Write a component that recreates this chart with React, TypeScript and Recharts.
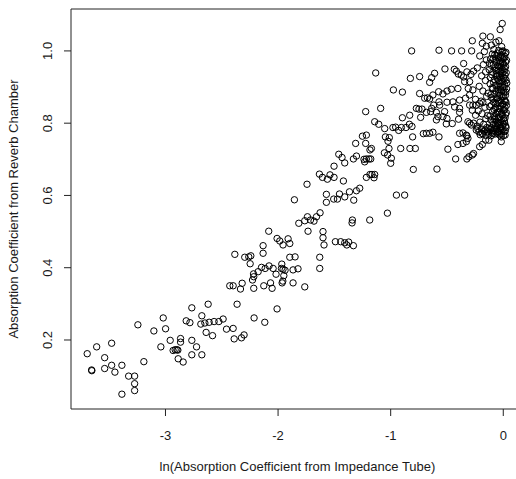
import { Label, ReferenceArea, Scatter, ScatterChart, XAxis, YAxis } from 'recharts';

// Axis ranges follow R's 4% padding around the data
const X_DOMAIN: [number, number] = [-3.839, 0.184];
const Y_DOMAIN: [number, number] = [0.009, 1.116];
const X_TICKS = [-3, -2, -1, 0];
const Y_TICKS = [0.2, 0.4, 0.6, 0.8, 1.0];

const X_TITLE = 'ln(Absorption Coefficient from Impedance Tube)';
const Y_TITLE = 'Absorption Coefficient from Reverb Chamber';

type Pt = [number, number];

// Low absorbers (ln alpha below about -2.6)
const lowAbsorbers: Pt[] = [
  [-2.766, 0.289], [-2.677, 0.267], [-3.245, 0.242], [-3.02, 0.261], [-3.103, 0.225],
  [-2.999, 0.231], [-2.816, 0.253], [-2.783, 0.248], [-2.686, 0.244], [-3.478, 0.191],
  [-3.611, 0.181], [-3.695, 0.162], [-3.54, 0.151], [-3.656, 0.117], [-3.654, 0.115],
  [-3.54, 0.121], [-3.478, 0.13], [-3.387, 0.13], [-3.449, 0.111], [-3.327, 0.1],
  [-3.274, 0.1], [-3.274, 0.079], [-3.274, 0.06], [-3.387, 0.05], [-3.192, 0.14],
  [-3.041, 0.181], [-2.958, 0.199], [-2.866, 0.204], [-2.866, 0.194], [-2.766, 0.199],
  [-2.724, 0.181], [-2.932, 0.171], [-2.914, 0.173], [-2.899, 0.173], [-2.89, 0.172],
  [-2.887, 0.148], [-2.843, 0.139], [-2.766, 0.159], [-2.677, 0.159],
];

// Middle band, ln alpha between -2.7 and -1.8
const midBand: Pt[] = [
  [-2.083, 0.501], [-2.009, 0.481], [-1.985, 0.474], [-1.911, 0.48], [-1.956, 0.463],
  [-1.896, 0.467], [-2.133, 0.461], [-2.133, 0.44], [-2.384, 0.437], [-2.296, 0.429],
  [-2.26, 0.43], [-2.242, 0.433], [-2.248, 0.411], [-1.896, 0.429], [-2.147, 0.401],
  [-2.08, 0.405], [-2.044, 0.398], [-2.115, 0.398], [-1.967, 0.41], [-1.97, 0.398],
  [-1.938, 0.393], [-1.956, 0.396], [-1.867, 0.394], [-2.218, 0.383], [-2.216, 0.375],
  [-2.177, 0.389], [-2.018, 0.382], [-1.949, 0.378], [-2.227, 0.366], [-1.958, 0.363],
  [-1.964, 0.358], [-1.867, 0.358], [-2.429, 0.35], [-2.399, 0.35], [-2.319, 0.357],
  [-2.334, 0.341], [-2.216, 0.343], [-2.127, 0.35], [-2.067, 0.358], [-2.053, 0.343],
  [-2.621, 0.299], [-2.364, 0.299], [-2.009, 0.286], [-2.65, 0.247], [-2.612, 0.249],
  [-2.568, 0.251], [-2.526, 0.251], [-2.488, 0.258], [-2.213, 0.261], [-2.118, 0.249],
  [-2.639, 0.221], [-2.582, 0.212], [-2.458, 0.23], [-2.399, 0.232], [-2.39, 0.203],
  [-2.325, 0.206], [-2.302, 0.214],
];

// Rising band, ln alpha between -1.9 and -1.3
const risingBand: Pt[] = [
  [-1.461, 0.714], [-1.432, 0.705], [-1.408, 0.69], [-1.331, 0.701], [-1.304, 0.709],
  [-1.503, 0.681], [-1.633, 0.659], [-1.606, 0.65], [-1.562, 0.645], [-1.539, 0.657],
  [-1.503, 0.65], [-1.42, 0.64], [-1.743, 0.631], [-1.571, 0.603], [-1.571, 0.581],
  [-1.506, 0.59], [-1.473, 0.59], [-1.455, 0.604], [-1.408, 0.596], [-1.366, 0.61],
  [-1.328, 0.587], [-1.304, 0.613], [-1.855, 0.588], [-1.816, 0.523], [-1.763, 0.53],
  [-1.739, 0.541], [-1.712, 0.532], [-1.681, 0.529], [-1.659, 0.541], [-1.627, 0.552],
  [-1.34, 0.532], [-1.343, 0.524], [-1.734, 0.501], [-1.601, 0.5], [-1.601, 0.483],
  [-1.592, 0.463], [-1.491, 0.472], [-1.444, 0.472], [-1.408, 0.469], [-1.373, 0.471],
  [-1.331, 0.461], [-1.39, 0.463], [-1.849, 0.43], [-1.63, 0.429], [-1.63, 0.398],
  [-1.823, 0.397], [-1.763, 0.347],
];

// Upper band, ln alpha between -1.3 and -0.7
const upperBand: Pt[] = [
  [-0.976, 0.892], [-0.896, 0.886], [-0.743, 0.882], [-0.698, 0.869], [-1.222, 0.832],
  [-1.089, 0.841], [-0.772, 0.841], [-0.749, 0.839], [-0.722, 0.839], [-0.896, 0.815],
  [-0.734, 0.816], [-1.142, 0.804], [-1.106, 0.797], [-1.053, 0.785], [-0.98, 0.788],
  [-0.956, 0.789], [-0.929, 0.78], [-0.905, 0.788], [-0.864, 0.788], [-0.834, 0.797],
  [-0.811, 0.791], [-0.805, 0.762], [-0.71, 0.771], [-1.251, 0.764], [-1.216, 0.767],
  [-1.047, 0.762], [-1.012, 0.76], [-1.024, 0.75], [-1.311, 0.744], [-1.222, 0.744],
  [-1.171, 0.73], [-1.184, 0.726], [-1.015, 0.73], [-1.056, 0.718], [-1.027, 0.712],
  [-0.994, 0.703], [-1.0, 0.689], [-0.911, 0.73], [-0.829, 0.73], [-0.781, 0.73],
  [-1.237, 0.7], [-1.231, 0.693], [-1.216, 0.701], [-1.193, 0.701], [-1.177, 0.701],
  [-0.799, 0.672], [-1.184, 0.658], [-1.166, 0.658], [-1.142, 0.658], [-1.148, 0.649],
  [-1.216, 0.65], [-1.275, 0.62], [-0.949, 0.601], [-0.876, 0.601], [-1.029, 0.551],
  [-1.186, 0.532], [-1.133, 0.939],
];

// Highly absorptive, ln alpha between -0.85 and -0.25
const highBand: Pt[] = [
  [-0.275, 1.028], [-0.814, 1.0], [-0.571, 1.002], [-0.459, 1.0], [-0.37, 1.0],
  [-0.281, 1.0], [-0.352, 0.965], [-0.518, 0.95], [-0.435, 0.949], [-0.417, 0.944],
  [-0.399, 0.936], [-0.373, 0.933], [-0.352, 0.928], [-0.323, 0.942], [-0.287, 0.935],
  [-0.264, 0.944], [-0.61, 0.938], [-0.825, 0.924], [-0.743, 0.929], [-0.636, 0.926],
  [-0.654, 0.913], [-0.674, 0.87], [-0.654, 0.867], [-0.625, 0.878], [-0.574, 0.887],
  [-0.536, 0.881], [-0.5, 0.889], [-0.461, 0.894], [-0.403, 0.896], [-0.311, 0.896],
  [-0.27, 0.892], [-0.299, 0.878], [-0.335, 0.869], [-0.571, 0.859], [-0.565, 0.85],
  [-0.618, 0.85], [-0.636, 0.841], [-0.645, 0.832], [-0.594, 0.83], [-0.58, 0.818],
  [-0.683, 0.83], [-0.5, 0.858], [-0.447, 0.859], [-0.388, 0.864], [-0.432, 0.845],
  [-0.388, 0.841], [-0.388, 0.83], [-0.521, 0.832], [-0.536, 0.818], [-0.5, 0.813],
  [-0.299, 0.85], [-0.275, 0.836], [-0.831, 0.822], [-0.594, 0.809], [-0.506, 0.798],
  [-0.453, 0.799], [-0.397, 0.811], [-0.314, 0.804], [-0.284, 0.795], [-0.683, 0.772],
  [-0.654, 0.772], [-0.625, 0.775], [-0.571, 0.762], [-0.314, 0.758], [-0.323, 0.765],
  [-0.492, 0.728], [-0.403, 0.741], [-0.358, 0.744], [-0.328, 0.749], [-0.423, 0.701],
  [-0.323, 0.701], [-0.305, 0.707], [-0.589, 0.673],
];

// Near-total absorbers, ln alpha close to zero
const nearUnity: Pt[] = [
  [-0.009, 1.076], [-0.028, 1.059], [-0.181, 1.041], [-0.115, 1.039], [-0.039, 1.028],
  [-0.186, 1.021], [-0.151, 1.013], [-0.106, 1.016], [-0.066, 1.024], [-0.014, 1.012],
  [-0.151, 0.975], [-0.122, 0.966], [-0.157, 0.942], [-0.299, 0.915], [-0.343, 0.915],
  [-0.083, 1.004], [-0.041, 1.001], [-0.012, 0.998], [0.018, 0.993], [-0.097, 0.991],
  [-0.058, 0.987], [-0.026, 0.984], [0.006, 0.981], [-0.113, 0.978], [-0.071, 0.975],
  [-0.035, 0.972], [0.021, 0.969], [-0.004, 0.966], [-0.088, 0.962], [-0.049, 0.959],
  [-0.019, 0.955], [0.011, 0.951], [-0.125, 0.948], [-0.064, 0.946], [-0.031, 0.943],
  [0.026, 0.94], [-0.008, 0.937], [-0.102, 0.934], [-0.055, 0.931], [-0.022, 0.927],
  [0.014, 0.924], [-0.079, 0.921], [-0.04, 0.918], [-0.003, 0.915], [0.031, 0.911],
  [-0.117, 0.909], [-0.068, 0.905], [-0.027, 0.902], [0.008, 0.899], [-0.091, 0.896],
  [-0.046, 0.893], [-0.014, 0.889], [0.022, 0.886], [-0.135, 0.883], [-0.075, 0.88],
  [-0.033, 0.877], [0.002, 0.874], [-0.106, 0.871], [-0.059, 0.867], [-0.02, 0.864],
  [0.017, 0.861], [-0.084, 0.858], [-0.043, 0.855], [-0.006, 0.852], [0.028, 0.849],
  [-0.121, 0.846], [-0.07, 0.843], [-0.029, 0.84], [0.01, 0.837], [-0.095, 0.833],
  [-0.051, 0.83], [-0.016, 0.827], [0.02, 0.824], [-0.14, 0.821], [-0.078, 0.818],
  [-0.037, 0.815], [0.004, 0.812], [-0.11, 0.809], [-0.062, 0.806], [-0.024, 0.803],
  [0.013, 0.8], [-0.087, 0.797], [-0.045, 0.794], [-0.009, 0.791], [0.025, 0.788],
  [-0.128, 0.785], [-0.066, 0.783], [-0.031, 0.78], [0.007, 0.777], [-0.099, 0.775],
  [-0.054, 0.772], [-0.018, 0.77], [0.016, 0.767],
  [-0.168, 0.998], [-0.209, 0.986], [-0.176, 0.962], [-0.231, 0.953], [-0.192, 0.931],
  [-0.158, 0.918], [-0.214, 0.902], [-0.181, 0.889], [-0.148, 0.874], [-0.247, 0.866],
  [-0.197, 0.861], [-0.163, 0.844], [-0.27, 0.85], [-0.24, 0.85], [-0.21, 0.855],
  [-0.181, 0.857], [-0.246, 0.822], [-0.222, 0.834], [-0.188, 0.826], [-0.155, 0.812],
  [-0.299, 0.8], [-0.264, 0.8], [-0.233, 0.792], [-0.207, 0.803], [-0.174, 0.797],
  [-0.358, 0.773], [-0.328, 0.767], [-0.388, 0.772], [-0.24, 0.781], [-0.216, 0.776],
  [-0.193, 0.784], [-0.17, 0.778], [-0.146, 0.788], [-0.131, 0.772], [-0.115, 0.782],
  [-0.092, 0.779], [-0.075, 0.77], [-0.057, 0.787], [-0.04, 0.776], [-0.022, 0.785],
  [-0.205, 0.768], [-0.183, 0.771], [-0.156, 0.766], [-0.108, 0.765],
  [-0.018, 0.762], [-0.018, 0.749], [-0.157, 0.753], [-0.128, 0.753], [-0.21, 0.735],
  [-0.186, 0.741], [-0.275, 0.712], [-0.264, 0.716],
];

// Second batch of the crowded column at ln alpha ~ 0
const nearUnityDense: Pt[] = [
  [-0.003, 1.0], [0.024, 0.996], [-0.052, 0.994], [-0.075, 0.99], [-0.017, 0.988],
  [0.012, 0.985], [-0.043, 0.981], [-0.089, 0.979], [-0.002, 0.977], [0.029, 0.974],
  [-0.06, 0.969], [-0.025, 0.967], [0.004, 0.963], [-0.107, 0.96], [-0.038, 0.957],
  [0.02, 0.956], [-0.073, 0.953], [-0.011, 0.949], [-0.045, 0.947], [0.009, 0.944],
  [-0.094, 0.941], [-0.02, 0.939], [-0.062, 0.936], [0.016, 0.933], [-0.035, 0.93],
  [-0.115, 0.926], [0.001, 0.925], [-0.05, 0.922], [0.025, 0.919], [-0.014, 0.916],
  [-0.086, 0.913], [-0.033, 0.91], [0.012, 0.907], [-0.057, 0.903], [-0.004, 0.9],
  [-0.098, 0.898], [0.029, 0.895], [-0.025, 0.892], [-0.066, 0.889], [0.005, 0.886],
  [-0.041, 0.883], [-0.11, 0.879], [0.019, 0.877], [-0.012, 0.873], [-0.053, 0.87],
  [-0.09, 0.867], [0.01, 0.864], [-0.031, 0.861], [0.024, 0.858], [-0.067, 0.855],
  [-0.001, 0.853], [-0.104, 0.85], [-0.021, 0.847], [0.015, 0.844], [-0.048, 0.841],
  [-0.082, 0.838], [0.003, 0.835], [-0.034, 0.832], [0.027, 0.829], [-0.063, 0.826],
  [-0.01, 0.823], [-0.118, 0.82], [-0.044, 0.817], [0.016, 0.815], [-0.076, 0.812],
  [-0.019, 0.809], [0.009, 0.806], [-0.093, 0.803], [-0.049, 0.8], [-0.002, 0.797],
  [-0.069, 0.794], [0.021, 0.792], [-0.028, 0.789], [-0.108, 0.787], [-0.081, 0.784],
  [-0.012, 0.781], [0.018, 0.779], [-0.05, 0.777], [-0.137, 0.776], [-0.16, 0.781],
  [-0.226, 0.785], [-0.19, 0.772], [-0.094, 0.771], [-0.036, 0.768], [0.003, 0.766],
];

const points = [
  ...lowAbsorbers,
  ...midBand,
  ...risingBand,
  ...upperBand,
  ...highBand,
  ...nearUnity,
  ...nearUnityDense,
].map(([x, y]) => ({ x, y }));

const FONT = '"Liberation Sans", Arial, Helvetica, sans-serif';
const INK = '#1a1a1a';

function OpenCircle(props: any) {
  const { cx, cy } = props;
  return <circle cx={cx} cy={cy} r={3.2} fill="none" stroke="#000" strokeWidth={1} />;
}

function XTick({ x, y, payload }: any) {
  return (
    <text x={x} y={y} dy={22} textAnchor="middle" fontFamily={FONT} fontSize={13} fill={INK}>
      {payload.value}
    </text>
  );
}

// R draws y tick labels parallel to the axis
function YTick({ x, y, payload }: any) {
  const bx = x - 10;
  return (
    <text
      x={bx}
      y={y}
      transform={`rotate(-90, ${bx}, ${y})`}
      textAnchor="middle"
      fontFamily={FONT}
      fontSize={13}
      fill={INK}
    >
      {Number(payload.value).toFixed(1)}
    </text>
  );
}

function YTitle({ viewBox }: any) {
  const bx = viewBox.x + 18;
  const cy = viewBox.y + viewBox.height / 2;
  return (
    <text
      x={bx}
      y={cy}
      transform={`rotate(-90, ${bx}, ${cy})`}
      textAnchor="middle"
      fontFamily={FONT}
      fontSize={13}
      fill={INK}
    >
      {Y_TITLE}
    </text>
  );
}

function XTitle({ viewBox }: any) {
  return (
    <text
      x={viewBox.x + viewBox.width / 2}
      y={viewBox.y + viewBox.height - 8}
      textAnchor="middle"
      fontFamily={FONT}
      fontSize={13}
      fill={INK}
    >
      {X_TITLE}
    </text>
  );
}

export default function App() {
  return (
    <div
      style={{
        position: 'fixed',
        left: 0,
        top: 0,
        width: 516,
        height: 479,
        overflow: 'hidden',
        background: '#fff',
      }}
    >
      <ScatterChart width={530} height={479} margin={{ top: 9, right: 6, bottom: 0, left: 0 }}>
        <XAxis
          type="number"
          dataKey="x"
          domain={X_DOMAIN}
          ticks={X_TICKS}
          allowDataOverflow
          height={70}
          axisLine={false}
          tickSize={7}
          tickLine={{ stroke: '#222' }}
          tick={<XTick />}
        >
          <Label content={<XTitle />} />
        </XAxis>
        <YAxis
          type="number"
          dataKey="y"
          domain={Y_DOMAIN}
          ticks={Y_TICKS}
          allowDataOverflow
          width={71}
          axisLine={false}
          tickSize={7}
          tickLine={{ stroke: '#222' }}
          tick={<YTick />}
        >
          <Label content={<YTitle />} />
        </YAxis>
        <ReferenceArea
          x1={X_DOMAIN[0]}
          x2={X_DOMAIN[1]}
          y1={Y_DOMAIN[0]}
          y2={Y_DOMAIN[1]}
          fill="none"
          stroke="#222"
          strokeWidth={1}
        />
        <Scatter data={points} shape={<OpenCircle />} isAnimationActive={false} />
      </ScatterChart>
    </div>
  );
}
